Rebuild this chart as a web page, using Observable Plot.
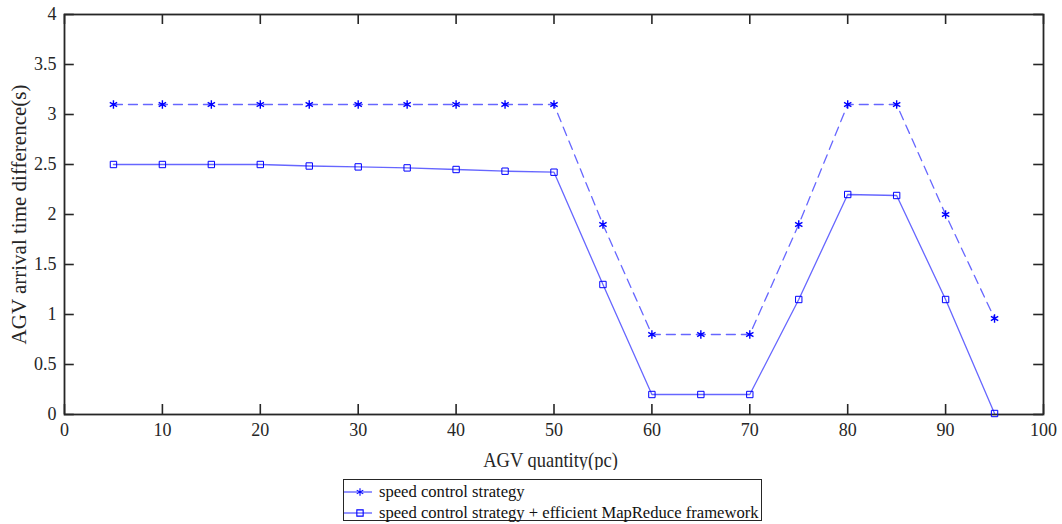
<!DOCTYPE html>
<html>
<head>
<meta charset="utf-8">
<script src="https://cdn.jsdelivr.net/npm/d3@7"></script>
<script src="https://cdn.jsdelivr.net/npm/@observablehq/plot@0.6"></script>
<style>
  html, body { margin: 0; padding: 0; background: #fff; }
  #chart { width: 1062px; height: 470px; }
  #chart svg, #chart svg text { font-family: "Liberation Serif", "Times New Roman", serif !important; }
  #legend {
    position: absolute; left: 343px; top: 479px;
    width: 417px; height: 40px;
    border: 1.6px solid #262626; background: #fff;
    font-family: "Liberation Serif", "Times New Roman", serif; font-size: 16.6px; color: #111;
  }
  .row { position: absolute; left: 0; height: 20px; display: flex; align-items: center; }
  .row svg { display: block; }
  .row span { margin-left: 7px; white-space: nowrap; }
</style>
</head>
<body>
<div id="chart"></div>
<div id="legend"></div>
<script>
const quantity = [5, 10, 15, 20, 25, 30, 35, 40, 45, 50, 55, 60, 65, 70, 75, 80, 85, 90, 95];
const speedControl = [3.1, 3.1, 3.1, 3.1, 3.1, 3.1, 3.1, 3.1, 3.1, 3.1, 1.9, 0.8, 0.8, 0.8, 1.9, 3.1, 3.1, 2.0, 0.96];
const speedControlMapReduce = [2.5, 2.5, 2.5, 2.5, 2.485, 2.476, 2.466, 2.45, 2.433, 2.423, 1.3, 0.2, 0.2, 0.2, 1.15, 2.2, 2.19, 1.15, 0.01];
const seriesNames = ["speed control strategy", "speed control strategy + efficient MapReduce framework"];
const xTicks = [0, 10, 20, 30, 40, 50, 60, 70, 80, 90, 100];
const yTicks = [0, 0.5, 1, 1.5, 2, 2.5, 3, 3.5, 4];
const xLabel = "AGV quantity(pc)";
const yLabel = "AGV arrival time difference(s)";

const s1 = quantity.map((q, i) => ({x: q, y: speedControl[i]}));
const s2 = quantity.map((q, i) => ({x: q, y: speedControlMapReduce[i]}));

const axisColor = "#262626";
const blue = "#0000ff";

const chart = Plot.plot({
  width: 1062,
  height: 470,
  marginLeft: 64,
  marginRight: 19,
  marginTop: 14,
  marginBottom: 56,
  style: "font-family: 'Liberation Serif', serif; background: #fff; color: #262626;",
  x: {domain: [0, 100]},
  y: {domain: [0, 4]},
  marks: [
    Plot.axisX(xTicks, {tickSize: 0, tickPadding: 9, fontSize: 18, fill: axisColor, label: null,
      tickFormat: d => String(d)}),
    Plot.axisY(yTicks, {tickSize: 0, tickPadding: 8, fontSize: 18, fill: axisColor, label: null,
      tickFormat: d => String(d)}),
    Plot.axisX([], {tickSize: 0, fontSize: 21, fill: axisColor,
      label: xLabel, labelAnchor: "center", labelArrow: "none", labelOffset: 52}),
    Plot.axisY([], {tickSize: 0, fontSize: 21, fill: axisColor,
      label: yLabel, labelAnchor: "center", labelArrow: "none", labelOffset: 53}),
    // inward ticks
    Plot.ruleX(xTicks, {x: d => d, y1: 0, y2: 0.1, stroke: axisColor, strokeWidth: 1.6}),
    Plot.ruleX(xTicks, {x: d => d, y1: 3.9, y2: 4, stroke: axisColor, strokeWidth: 1.6}),
    Plot.ruleY(yTicks, {y: d => d, x1: 0, x2: 1, stroke: axisColor, strokeWidth: 1.6}),
    Plot.ruleY(yTicks, {y: d => d, x1: 99, x2: 100, stroke: axisColor, strokeWidth: 1.6}),
    Plot.frame({stroke: axisColor, strokeWidth: 1.8}),
    Plot.line(s1, {x: "x", y: "y", stroke: blue, strokeOpacity: 0.6, strokeWidth: 1.3, strokeDasharray: "9,6"}),
    Plot.line(s2, {x: "x", y: "y", stroke: blue, strokeOpacity: 0.6, strokeWidth: 1.3}),
    Plot.dot(s1, {x: "x", y: "y", symbol: "asterisk", r: 4, stroke: blue, strokeWidth: 1.4}),
    Plot.dot(s2, {x: "x", y: "y", symbol: "square", r: 3.6, stroke: blue, fill: "none", strokeWidth: 1})
  ]
});
document.getElementById("chart").appendChild(chart);

// the reference's horizontal text is slightly condensed
const squeeze = 0.88;
d3.select(chart).selectAll('g[aria-label="x-axis label"] text').each(function () {
  const w = this.getComputedTextLength();
  const tl = w * squeeze;
  this.setAttribute("textLength", tl.toFixed(1));
  this.setAttribute("lengthAdjust", "spacingAndGlyphs");
  this.setAttribute("text-anchor", "start");
  this.style.textAnchor = "start";
  this.setAttribute("dx", (-tl / 2 - 3.5).toFixed(1));
});

// legend
const legend = d3.select("#legend");
seriesNames.forEach((name, i) => {
  const row = legend.append("div").attr("class", "row").style("top", (i * 21 + 2) + "px");
  const svg = row.append("svg").attr("width", 28).attr("height", 20);
  svg.append("line").attr("x1", 0).attr("x2", 28).attr("y1", 10).attr("y2", 10)
    .attr("stroke", blue).attr("stroke-opacity", 0.7).attr("stroke-width", 1.2);
  const sym = i === 0 ? d3.symbolAsterisk : d3.symbolSquare;
  svg.append("path").attr("d", d3.symbol(sym, 40)())
    .attr("transform", "translate(16,10)")
    .attr("stroke", blue).attr("fill", "none").attr("stroke-width", 1.1);
  row.append("span").text(name);
});
</script>
</body>
</html>
